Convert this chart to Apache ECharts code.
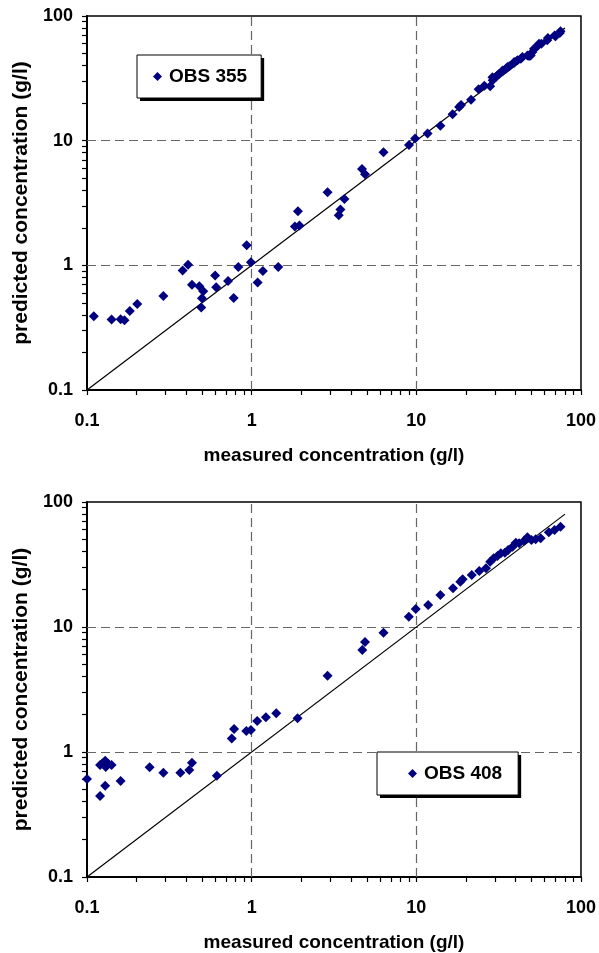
<!DOCTYPE html>
<html>
<head>
<meta charset="utf-8">
<script src="https://cdn.jsdelivr.net/npm/echarts@6/dist/echarts.min.js"></script>
<style>
  html, body { margin: 0; padding: 0; background: #fff; }
  #chart { width: 599px; height: 953px; }
</style>
</head>
<body>
<div id="chart"></div>
<script>
// OBS 355: measured vs predicted concentration (g/l)
const obs355Measured = [
  0.110, 0.141, 0.160, 0.169, 0.182, 0.202, 0.291, 0.381, 0.411, 0.434,
  0.481, 0.508, 0.499, 0.494, 0.600, 0.609, 0.719, 0.778, 0.830, 0.933,
  0.99, 1.087, 1.17, 1.45, 1.83, 1.95, 1.91, 2.89, 3.38, 3.46,
  3.66, 4.68, 4.88, 6.32, 9.03, 9.83, 11.7, 14.0, 16.6, 18.2,
  18.7, 21.5, 23.9, 25.9, 28.1, 29.1, 30.4, 31.9, 33.4, 35.0,
  36.7, 39.3, 41.1, 44.1, 47.3, 49.5, 50.7, 54.3, 57.4, 63.0,
  69.1, 74.4, 29.0, 31.1, 33.4, 35.8, 39.3, 43.1, 48.4, 51.9,
  55.6, 62.4, 70.0, 75.1
];
const obs355Predicted = [
  0.39, 0.367, 0.369, 0.362, 0.43, 0.49, 0.567, 0.91, 1.01, 0.70,
  0.68, 0.62, 0.544, 0.46, 0.83, 0.667, 0.748, 0.547, 0.97, 1.45,
  1.06, 0.727, 0.90, 0.97, 2.05, 2.09, 2.71, 3.85, 2.52, 2.80,
  3.40, 5.92, 5.37, 8.06, 9.22, 10.4, 11.4, 13.2, 16.3, 18.6,
  19.3, 21.3, 25.9, 27.6, 27.3, 30.5, 32.4, 34.4, 36.1, 37.8,
  39.6, 42.2, 44.1, 46.9, 48.3, 48.3, 51.4, 57.1, 60.0, 66.6,
  69.9, 72.9, 32.2, 33.4, 36.6, 38.9, 42.7, 45.5, 47.8, 54.7,
  60.0, 63.8, 68.7, 75.3
];

// OBS 408: measured vs predicted concentration (g/l)
const obs408Measured = [
  0.100, 0.120, 0.124, 0.129, 0.130, 0.134, 0.141, 0.120, 0.129, 0.160,
  0.240, 0.291, 0.369, 0.418, 0.434, 0.615, 0.757, 0.782, 0.928, 0.99,
  1.08, 1.22, 1.41, 1.90, 2.89, 4.70, 4.88, 6.32, 9.0, 9.92,
  11.8, 14.0, 16.7, 18.5, 19.1, 21.7, 24.1, 26.5, 28.1, 29.5,
  31.1, 32.6, 34.5, 36.1, 38.4, 40.2, 42.1, 45.1, 47.3, 50.0,
  53.1, 56.9, 63.8, 69.1, 75.1
];
const obs408Predicted = [
  0.608, 0.787, 0.81, 0.85, 0.76, 0.81, 0.787, 0.445, 0.537, 0.586,
  0.755, 0.683, 0.683, 0.718, 0.82, 0.646, 1.28, 1.53, 1.47, 1.50,
  1.77, 1.90, 2.04, 1.86, 4.08, 6.55, 7.59, 9.0, 12.1, 13.9,
  15.0, 18.0, 20.4, 23.0, 24.1, 26.1, 28.1, 29.5, 33.3, 35.4,
  37.0, 38.9, 39.3, 41.3, 43.9, 47.2, 46.8, 49.0, 52.2, 49.7,
  50.3, 51.3, 57.3, 59.7, 63.4
];

// 1:1 reference line end points
const unityLine = [0.1, 80];

// Axis ticks, labels and dashed grid positions
const tickValues = [
  0.1, 0.2, 0.3, 0.4, 0.5, 0.6, 0.7, 0.8, 0.9,
  1, 2, 3, 4, 5, 6, 7, 8, 9,
  10, 20, 30, 40, 50, 60, 70, 80, 90, 100
];
const labelValues = [0.1, 1, 10, 100];
const labelTexts = ['0.1', '1', '10', '100'];
const gridValues = [1, 10];

const xTitle = 'measured concentration (g/l)';
const yTitle = 'predicted concentration (g/l)';
const seriesNames = ['OBS 355', 'OBS 408'];

const FONT = '"Liberation Sans", Arial, sans-serif';
const NAVY = '#000080';
const CLEAR = 'rgba(0,0,0,0)';

function pairs(xs, ys) {
  return xs.map((x, i) => [x, ys[i]]);
}

function fmt(v) {
  const i = labelValues.findIndex(l => Math.abs(l - v) < 1e-9);
  return i >= 0 ? labelTexts[i] : '';
}

function makeAxis(idx, isX) {
  return {
    type: 'log',
    logBase: 10,
    gridIndex: idx,
    min: 0.1,
    max: 100,
    name: isX ? xTitle : yTitle,
    nameLocation: 'middle',
    nameGap: isX ? 56 : 54,
    nameTextStyle: { fontFamily: FONT, fontWeight: 'bold', fontSize: isX ? 19 : 21, color: '#000' },
    axisLine: { show: true, onZero: false, lineStyle: { color: '#000', width: 2 } },
    axisTick: {
      show: true, inside: false, length: 5,
      customValues: tickValues,
      lineStyle: { color: '#000', width: 1.2 }
    },
    minorTick: { show: false },
    axisLabel: {
      customValues: labelValues,
      formatter: fmt,
      margin: isX ? 22 : 14,
      fontFamily: FONT, fontWeight: 'bold', fontSize: 18, color: '#000'
    },
    splitLine: { show: false }
  };
}

// Legend box; a second, offset copy in solid black forms its drop shadow
function legendFor(name, left, top, padding, shadow) {
  return {
    data: [name],
    left: shadow ? left + 3 : left,
    top: shadow ? top + 3 : top,
    orient: 'horizontal',
    itemWidth: 9, itemHeight: 9,
    padding: padding,
    backgroundColor: shadow ? '#000' : '#fff',
    borderColor: '#000', borderWidth: shadow ? 0 : 1,
    borderRadius: 0,
    selectedMode: false,
    z: shadow ? 8 : 9,
    itemStyle: shadow ? { color: CLEAR, borderColor: CLEAR } : {},
    textStyle: {
      fontFamily: FONT, fontWeight: 'bold', fontSize: 19,
      color: shadow ? CLEAR : '#000', padding: [0, 0, 0, 2]
    }
  };
}

function gridLines() {
  return {
    silent: true,
    z: 1,
    symbol: ['none', 'none'],
    label: { show: false },
    lineStyle: { color: '#666', type: [9, 5], width: 1.2 },
    data: gridValues.map(v => ({ xAxis: v })).concat(gridValues.map(v => ({ yAxis: v })))
  };
}

function unitySeries(idx) {
  return {
    name: 'unity-' + idx, type: 'line', xAxisIndex: idx, yAxisIndex: idx,
    data: pairs(unityLine, unityLine), symbol: 'none',
    lineStyle: { color: '#000', width: 1.2 }, silent: true, z: 1,
    markLine: gridLines()
  };
}

function obsSeries(idx, xs, ys) {
  return {
    name: seriesNames[idx], type: 'scatter', xAxisIndex: idx, yAxisIndex: idx,
    data: pairs(xs, ys),
    symbol: 'diamond', symbolSize: 10,
    itemStyle: { color: NAVY, opacity: 1 }, z: 3
  };
}

const chart = echarts.init(document.getElementById('chart'), null, { renderer: 'canvas' });

chart.setOption({
  animation: false,
  backgroundColor: '#fff',
  grid: [
    { left: 87, top: 16, width: 497, height: 374, show: true, borderColor: '#000', borderWidth: 1.5, backgroundColor: '#fff' },
    { left: 87, top: 502, width: 497, height: 375, show: true, borderColor: '#000', borderWidth: 1.5, backgroundColor: '#fff' }
  ],
  xAxis: [makeAxis(0, true), makeAxis(1, true)],
  yAxis: [makeAxis(0, false), makeAxis(1, false)],
  legend: [
    legendFor(seriesNames[0], 137, 55, [12, 14, 12, 16], true),
    legendFor(seriesNames[0], 137, 55, [12, 14, 12, 16], false),
    legendFor(seriesNames[1], 377, 752, [12, 16, 12, 31], true),
    legendFor(seriesNames[1], 377, 752, [12, 16, 12, 31], false)
  ],
  series: [
    unitySeries(0),
    unitySeries(1),
    obsSeries(0, obs355Measured, obs355Predicted),
    obsSeries(1, obs408Measured, obs408Predicted)
  ]
});
</script>
</body>
</html>
